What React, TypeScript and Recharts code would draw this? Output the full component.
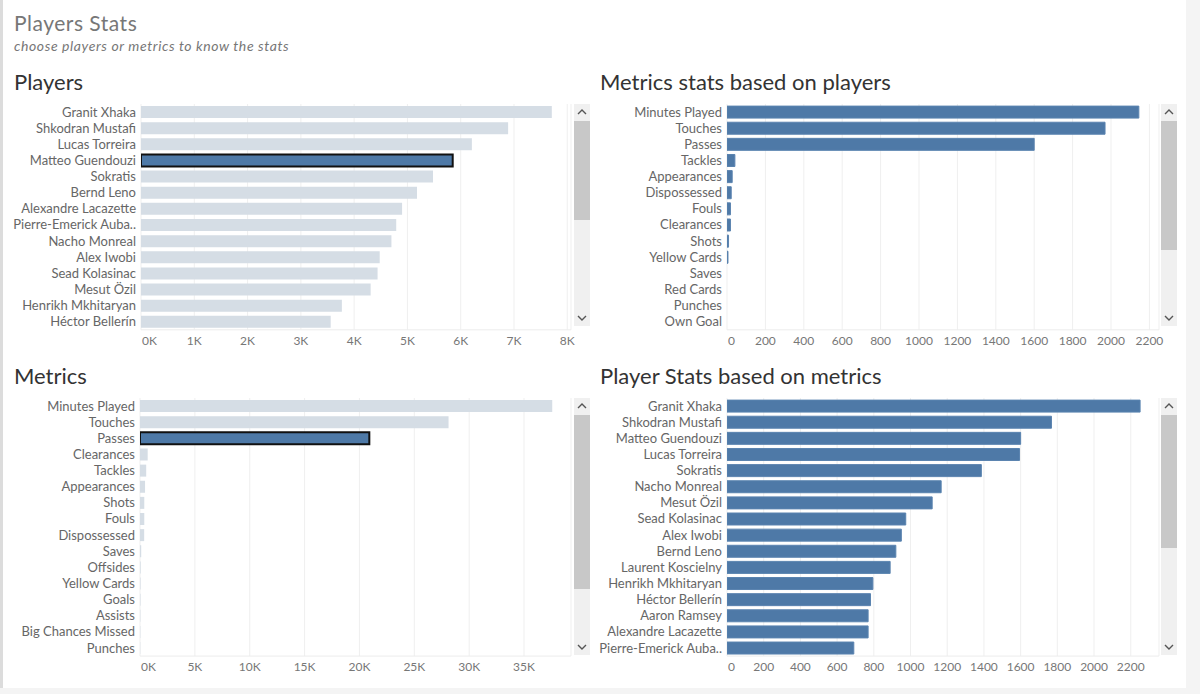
import React from "react";
import { BarChart, Bar, XAxis, YAxis, CartesianGrid, Cell } from "recharts";

const FONT = "Lato, 'Open Sans', sans-serif";

// Players panel (total of all metrics per player)
const playerNames = [
  "Granit Xhaka",
  "Shkodran Mustafi",
  "Lucas Torreira",
  "Matteo Guendouzi",
  "Sokratis",
  "Bernd Leno",
  "Alexandre Lacazette",
  "Pierre-Emerick Auba..",
  "Nacho Monreal",
  "Alex Iwobi",
  "Sead Kolasinac",
  "Mesut Özil",
  "Henrikh Mkhitaryan",
  "Héctor Bellerín",
];
const playerTotals = [7710, 6890, 6210, 5850, 5480, 5180, 4900, 4790, 4700, 4480, 4440, 4310, 3770, 3560];
const playerTicks = [0, 1000, 2000, 3000, 4000, 5000, 6000, 7000, 8000];
const selectedPlayer = "Matteo Guendouzi";

// Metrics stats for the selected player
const playerMetricNames = [
  "Minutes Played",
  "Touches",
  "Passes",
  "Tackles",
  "Appearances",
  "Dispossessed",
  "Fouls",
  "Clearances",
  "Shots",
  "Yellow Cards",
  "Saves",
  "Red Cards",
  "Punches",
  "Own Goal",
];
const playerMetricValues = [2145, 1969, 1600, 41, 27, 22, 18, 18, 8, 5, 0, 0, 0, 0];
const playerMetricTicks = [0, 200, 400, 600, 800, 1000, 1200, 1400, 1600, 1800, 2000, 2200];

// Metrics panel (totals over all players)
const metricNames = [
  "Minutes Played",
  "Touches",
  "Passes",
  "Clearances",
  "Tackles",
  "Appearances",
  "Shots",
  "Fouls",
  "Dispossessed",
  "Saves",
  "Offsides",
  "Yellow Cards",
  "Goals",
  "Assists",
  "Big Chances Missed",
  "Punches",
];
const metricTotals = [37570, 28120, 20900, 700, 565, 460, 390, 390, 380, 110, 60, 50, 45, 35, 30, 25];
const metricTicks = [0, 5000, 10000, 15000, 20000, 25000, 30000, 35000];
const selectedMetric = "Passes";

// Player stats for the selected metric
const passPlayers = [
  "Granit Xhaka",
  "Shkodran Mustafi",
  "Matteo Guendouzi",
  "Lucas Torreira",
  "Sokratis",
  "Nacho Monreal",
  "Mesut Özil",
  "Sead Kolasinac",
  "Alex Iwobi",
  "Bernd Leno",
  "Laurent Koscielny",
  "Henrikh Mkhitaryan",
  "Héctor Bellerín",
  "Aaron Ramsey",
  "Alexandre Lacazette",
  "Pierre-Emerick Auba..",
];
const passValues = [2251, 1768, 1600, 1594, 1386, 1167, 1118, 974, 950, 920, 889, 795, 782, 769, 769, 691];
const passTicks = [0, 200, 400, 600, 800, 1000, 1200, 1400, 1600, 1800, 2000, 2200];

const BLUE = "#4e79a7";
const FADED = "#d5dde5";

const kFmt = (v: number) => `${v / 1000}K`;
const plainFmt = (v: number) => `${v}`;

function XTick(props: any) {
  const { x, y, payload, index, fmt } = props;
  return (
    <text
      x={index === 0 ? x + 1 : x}
      y={y}
      dy={11}
      textAnchor={index === 0 ? "start" : "middle"}
      fill="#777"
      fontSize={12}
      fontFamily={FONT}
    >
      {fmt(payload.value)}
    </text>
  );
}

function YTick(props: any) {
  const { x, y, payload } = props;
  return (
    <text x={x} y={y} dy={4.5} textAnchor="end" fill="#666" fontSize={13} fontFamily={FONT}>
      {payload.value}
    </text>
  );
}

interface PanelProps {
  left: number;
  top: number;
  width: number;
  rows: number;
  yWidth: number;
  names: string[];
  values: number[];
  max: number;
  ticks: number[];
  fmt: (v: number) => string;
  selected?: string;
}

function Panel({ left, top, width, rows, yWidth, names, values, max, ticks, fmt, selected }: PanelProps) {
  const data = names.map((n, i) => ({ name: n, value: values[i] }));
  const rowH = 16.13;
  const plotH = rows * rowH;
  return (
    <div style={{ position: "absolute", left, top }}>
      <BarChart
        width={width}
        height={plotH + 22}
        data={data}
        layout="vertical"
        margin={{ top: 0, right: 0, bottom: 0, left: 0 }}
        barCategoryGap="13%"
      >
        <CartesianGrid horizontal={false} stroke="#efefef" />
        <XAxis
          type="number"
          domain={[0, max]}
          ticks={ticks}
          interval={0}
          allowDataOverflow
          height={22}
          axisLine={{ stroke: "#ececec" }}
          tickLine={false}
          tickSize={0}
          tickMargin={4}
          tick={<XTick fmt={fmt} />}
        />
        <YAxis
          type="category"
          dataKey="name"
          width={yWidth}
          interval={0}
          axisLine={false}
          tickLine={false}
          tickSize={0}
          tickMargin={5}
          tick={<YTick />}
        />
        <Bar dataKey="value" isAnimationActive={false}>
          {data.map((d) => {
            const faded = selected !== undefined && d.name !== selected;
            const isSel = selected !== undefined && d.name === selected;
            return (
              <Cell
                key={d.name}
                fill={faded ? FADED : BLUE}
                stroke={isSel ? "#111" : faded ? "none" : "#5a84b0"}
                strokeWidth={isSel ? 2 : 1}
              />
            );
          })}
        </Bar>
      </BarChart>
    </div>
  );
}

function Chevron({ up }: { up: boolean }) {
  return (
    <svg width={10} height={6} style={{ display: "block", margin: "0 auto" }}>
      <polyline
        points={up ? "1,5 5,1 9,5" : "1,1 5,5 9,1"}
        fill="none"
        stroke="#555"
        strokeWidth={1.4}
      />
    </svg>
  );
}

function Scroll({ left, top, height, thumbTop, thumbH }: { left: number; top: number; height: number; thumbTop: number; thumbH: number }) {
  return (
    <div style={{ position: "absolute", left, top, width: 16, height, background: "#f0f0f0" }}>
      <div style={{ position: "absolute", left: 0, top: thumbTop - top, width: 16, height: thumbH, background: "#c8c8c8" }} />
      <div style={{ position: "absolute", left: 0, top: 5, width: 16 }}>
        <Chevron up />
      </div>
      <div style={{ position: "absolute", left: 0, bottom: 5, width: 16 }}>
        <Chevron up={false} />
      </div>
    </div>
  );
}

const titleStyle: React.CSSProperties = {
  position: "absolute",
  fontFamily: FONT,
  fontSize: 22,
  color: "#333",
  lineHeight: "24px",
  whiteSpace: "nowrap",
};

export default function App() {
  return (
    <div style={{ position: "relative", width: 1200, height: 694, background: "#f4f4f4", overflow: "hidden", fontFamily: FONT }}>
      <style>{"body{margin:0} .recharts-wrapper svg.recharts-surface{overflow:visible}"}</style>
      <div style={{ position: "absolute", left: 0, top: 0, width: 3, height: 688, background: "#dcdcdc" }} />
      <div style={{ position: "absolute", left: 3, top: 0, width: 1183, height: 688, background: "#fff" }} />

      <div style={{ ...titleStyle, left: 14, top: 11, color: "#777", fontSize: 21, letterSpacing: 0.5 }}>Players Stats</div>
      <div style={{ ...titleStyle, left: 14, top: 38, color: "#777", fontSize: 14, letterSpacing: 0.6, fontStyle: "italic", lineHeight: "16px" }}>
        choose players or metrics to know the stats
      </div>

      <div style={{ ...titleStyle, left: 14, top: 70 }}>Players</div>
      <div style={{ ...titleStyle, left: 600, top: 70 }}>Metrics stats based on players</div>
      <div style={{ ...titleStyle, left: 14, top: 364 }}>Metrics</div>
      <div style={{ ...titleStyle, left: 600, top: 364 }}>Player Stats based on metrics</div>

      <Panel
        left={0}
        top={104}
        width={571}
        rows={14}
        yWidth={141}
        names={playerNames}
        values={playerTotals}
        max={8070}
        ticks={playerTicks}
        fmt={kFmt}
        selected={selectedPlayer}
      />
      <Panel
        left={590}
        top={104}
        width={569}
        rows={14}
        yWidth={137}
        names={playerMetricNames}
        values={playerMetricValues}
        max={2250}
        ticks={playerMetricTicks}
        fmt={plainFmt}
      />
      <Panel
        left={0}
        top={398}
        width={571}
        rows={16}
        yWidth={140}
        names={metricNames}
        values={metricTotals}
        max={39280}
        ticks={metricTicks}
        fmt={kFmt}
        selected={selectedMetric}
      />
      <Panel
        left={590}
        top={398}
        width={569}
        rows={16}
        yWidth={137}
        names={passPlayers}
        values={passValues}
        max={2354}
        ticks={passTicks}
        fmt={plainFmt}
      />

      <Scroll left={574} top={104} height={222} thumbTop={121} thumbH={99} />
      <Scroll left={1161} top={104} height={222} thumbTop={121} thumbH={129} />
      <Scroll left={574} top={398} height={257} thumbTop={415} thumbH={174} />
      <Scroll left={1161} top={398} height={257} thumbTop={415} thumbH={133} />
    </div>
  );
}
